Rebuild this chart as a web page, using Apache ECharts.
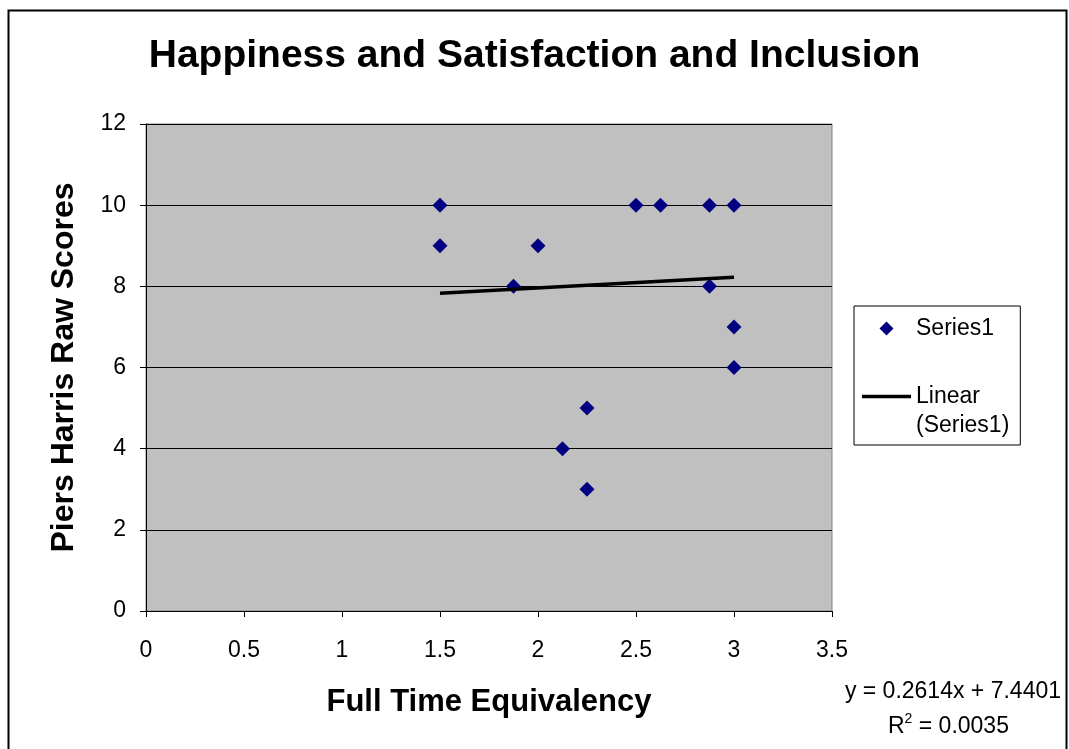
<!DOCTYPE html>
<html>
<head>
<meta charset="utf-8">
<script src="https://cdn.jsdelivr.net/npm/echarts@6/dist/echarts.min.js"></script>
<style>html,body{margin:0;padding:0;background:#fff;}#c{width:1069px;height:749px;}</style>
</head>
<body>
<div id="c"></div>
<script>
var titleText = 'Happiness and Satisfaction and Inclusion';
var xName = 'Full Time Equivalency';
var yName = 'Piers Harris Raw Scores';
var seriesName = 'Series1';
var trendName = 'Linear (Series1)';
var fteValues = [1.5, 1.5, 1.875, 2, 2.125, 2.25, 2.25, 2.5, 2.625, 2.875, 2.875, 3, 3, 3];
var scoreValues = [10, 9, 8, 9, 4, 5, 3, 10, 10, 10, 8, 10, 7, 6];
var trendX = [1.5, 3];
var trendY = [7.832, 8.224];
var equationLine = 'y = 0.2614x + 7.4401';
var r2Value = '0.0035';

var FONT = 'Liberation Sans, Arial, sans-serif';
var scatterData = fteValues.map(function (x, i) { return [x, scoreValues[i]]; });
var trendData = trendX.map(function (x, i) { return [x, trendY[i]]; });

var chart = echarts.init(document.getElementById('c'), null, { renderer: 'canvas' });
chart.setOption({
  backgroundColor: '#fff',
  animation: false,
  title: {
    text: titleText, left: 'center', top: 32,
    textStyle: { fontFamily: FONT, fontSize: 39, fontWeight: 'bold', color: '#000' }
  },
  grid: { left: 146, top: 124, width: 686, height: 487, show: true, backgroundColor: '#C0C0C0', borderColor: '#808080', borderWidth: 1 },
  xAxis: {
    type: 'value', min: 0, max: 3.5, interval: 0.5,
    name: xName, nameLocation: 'middle', nameGap: 76,
    nameTextStyle: { fontFamily: FONT, fontSize: 31, fontWeight: 'bold', color: '#000' },
    axisLine: { show: true, lineStyle: { color: '#000', width: 1 } },
    axisTick: { show: true, length: 6, lineStyle: { color: '#000' } },
    axisLabel: { fontFamily: FONT, fontSize: 23, color: '#000', margin: 28 },
    splitLine: { show: false }
  },
  yAxis: {
    type: 'value', min: 0, max: 12, interval: 2,
    name: yName, nameLocation: 'middle', nameGap: 66,
    nameTextStyle: { fontFamily: FONT, fontSize: 32, fontWeight: 'bold', color: '#000' },
    axisLine: { show: true, lineStyle: { color: '#000', width: 1 } },
    axisTick: { show: true, length: 6, lineStyle: { color: '#000' } },
    axisLabel: { fontFamily: FONT, fontSize: 23, color: '#000', margin: 20 },
    splitLine: { show: true, lineStyle: { color: '#000', width: 1 } }
  },
  legend: {
    orient: 'vertical', left: 854, top: 306,
    padding: [8, 11, 5, 8],
    itemGap: 10, itemWidth: 49, itemHeight: 14,
    borderColor: '#000', borderWidth: 1, backgroundColor: '#fff',
    textStyle: { fontFamily: FONT, fontSize: 23, color: '#000', lineHeight: 29 },
    formatter: function (n) { return n === trendName ? '\nLinear\n(Series1)' : n; },
    data: [
      { name: seriesName, icon: 'path://M0 0M49 14M24.5 0L31.5 7L24.5 14L17.5 7Z', itemStyle: { color: '#000080', opacity: 1 } },
      { name: trendName, icon: 'path://M0 0H49V3.5H0Z', itemStyle: { color: '#000' } }
    ]
  },
  series: [
    {
      name: seriesName, type: 'scatter', data: scatterData,
      symbol: 'diamond', symbolSize: 15,
      itemStyle: { color: '#000080', opacity: 1 }, z: 3
    },
    {
      name: trendName, type: 'line', data: trendData,
      showSymbol: false, symbol: 'none',
      lineStyle: { color: '#000', width: 3.5 },
      itemStyle: { color: '#000' }, z: 4
    }
  ],
  graphic: [
    { type: 'rect', shape: { x: 8.5, y: 10.5, width: 1058, height: 760 }, style: { fill: 'none', stroke: '#000', lineWidth: 2 }, z: 100 },
    { type: 'text', right: 8, top: 680, style: { text: equationLine, font: '23px ' + FONT, fill: '#000' } },
    { type: 'text', left: 888, top: 712, style: {
        text: '{b|R}{s|2}{b| = ' + r2Value + '}',
        rich: { b: { fontFamily: FONT, fontSize: 23, fill: '#000', verticalAlign: 'bottom' }, s: { fontFamily: FONT, fontSize: 14, fill: '#000', verticalAlign: 'top', padding: [0,0,12,0] } }
      } }
  ]
});
</script>
</body>
</html>
